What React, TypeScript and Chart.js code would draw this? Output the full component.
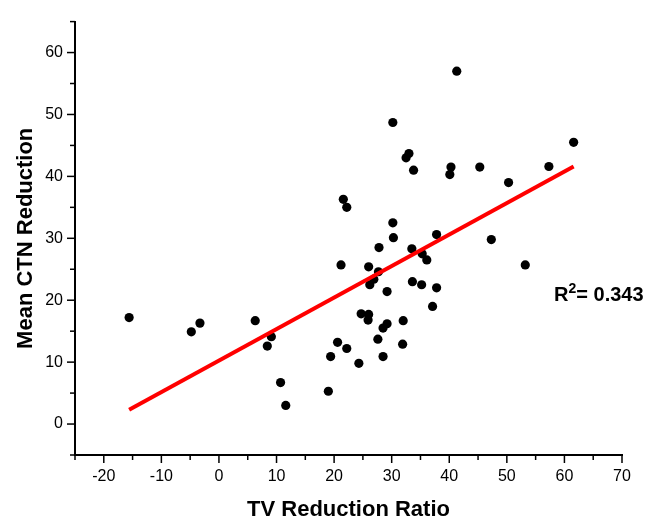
import React, { useEffect, useRef } from "react";
import { Chart, registerables } from "chart.js";

Chart.register(...registerables);

// TV Reduction Ratio (x) and Mean CTN Reduction (y) for each subject
const tvRatio: number[] = [
  -15.6, -4.8, -3.3, 6.3, 9.1, 8.4, 10.7, 11.6,
  21.6, 22.2, 30.2, 30.3, 37.8, 27.8, 33.5, 35.3, 36.1, 21.2, 26.0, 27.7,
  26.9, 26.2, 33.6, 35.2, 37.8, 29.2, 37.1, 24.7, 26.0, 25.9, 32.0, 29.2,
  28.5, 27.6, 20.6, 22.2, 31.9, 19.4, 28.5, 24.3, 19.0,
  41.3, 61.6, 40.3, 40.1, 45.3, 57.3, 50.3, 47.3, 53.2,
  30.2, 33.0, 32.5, 33.8,
];
const ctnReduction: number[] = [
  17.2, 14.9, 16.3, 16.7, 14.1, 12.6, 6.7, 3.0,
  36.3, 35.0, 32.5, 30.1, 30.6, 28.5, 28.3, 27.5, 26.5, 25.7, 25.4, 24.6,
  23.4, 22.5, 23.0, 22.5, 22.0, 21.4, 19.0, 17.8, 17.7, 16.8, 16.7, 16.2,
  15.5, 13.7, 13.2, 12.2, 12.9, 10.9, 10.9, 9.8, 5.3,
  57.0, 45.5, 41.5, 40.3, 41.5, 41.6, 39.0, 29.8, 25.7,
  48.7, 43.7, 43.0, 41.0,
];

// Linear fit end points
const fitX: number[] = [-15.6, 61.6];
const fitY: number[] = [2.3, 41.6];

const xTitle = "TV Reduction Ratio";
const yTitle = "Mean CTN Reduction";
const r2Label = "0.343";
const r2Pos = { x: 58.2, y: 19.9 };

const FONT = "'Liberation Sans', Arial, sans-serif";

export default function App() {
  const ref = useRef<HTMLCanvasElement | null>(null);

  useEffect(() => {
    document.body.style.margin = "0";
    const canvas = ref.current;
    if (!canvas) return;

    const tickPlugin = {
      id: "axisTicksAndLabel",
      afterDraw(chart: any) {
        const ctx = chart.ctx;
        const xs = chart.scales.x;
        const ys = chart.scales.y;
        const area = chart.chartArea;
        ctx.save();
        ctx.strokeStyle = "#000";
        ctx.lineWidth = 1.5;
        xs.ticks.forEach((t: any) => {
          const px = xs.getPixelForValue(t.value);
          const major = Math.round(t.value) % 10 === 0;
          ctx.beginPath();
          ctx.moveTo(px, area.bottom);
          ctx.lineTo(px, area.bottom + (major ? 8 : 5));
          ctx.stroke();
        });
        ys.ticks.forEach((t: any) => {
          const py = ys.getPixelForValue(t.value);
          const major = Math.round(t.value) % 10 === 0;
          ctx.beginPath();
          ctx.moveTo(area.left, py);
          ctx.lineTo(area.left - (major ? 8 : 5), py);
          ctx.stroke();
        });
        // R² annotation
        let x = xs.getPixelForValue(r2Pos.x);
        const y = ys.getPixelForValue(r2Pos.y);
        ctx.fillStyle = "#000";
        ctx.textBaseline = "alphabetic";
        ctx.textAlign = "left";
        ctx.font = `bold 20px ${FONT}`;
        ctx.fillText("R", x, y);
        x += ctx.measureText("R").width;
        ctx.font = `bold 14px ${FONT}`;
        ctx.fillText("2", x, y - 8);
        x += ctx.measureText("2").width;
        ctx.font = `bold 20px ${FONT}`;
        ctx.fillText("= " + r2Label, x, y);
        ctx.restore();
      },
    };

    const chart = new Chart(canvas, {
      data: {
        datasets: [
          {
            type: "line",
            label: "fit",
            data: fitX.map((v, i) => ({ x: v, y: fitY[i] })),
            borderColor: "#ff0000",
            borderWidth: 4,
            pointRadius: 0,
            fill: false,
            order: 0,
          },
          {
            type: "scatter",
            label: "data",
            data: tvRatio.map((v, i) => ({ x: v, y: ctnReduction[i] })),
            backgroundColor: "#000",
            borderColor: "#000",
            pointRadius: 4.6,
            borderWidth: 0,
            order: 1,
          },
        ],
      },
      options: {
        animation: false,
        responsive: true,
        maintainAspectRatio: false,
        layout: { padding: { top: 8, right: 29, left: 0, bottom: 0 } },
        plugins: { legend: { display: false }, tooltip: { enabled: false } },
        scales: {
          x: {
            type: "linear",
            position: "bottom",
            min: -25,
            max: 70,
            afterFit: (s: any) => {
              s.height = 69;
            },
            ticks: {
              stepSize: 5,
              padding: 12,
              color: "#000",
              font: { size: 16, family: FONT },
              callback: (v: any) => (Math.round(v) % 10 === 0 ? String(v) : ""),
              maxRotation: 0,
              autoSkip: false,
            },
            grid: { display: false, drawTicks: false },
            border: { display: true, color: "#000", width: 2 },
            title: {
              display: true,
              text: xTitle,
              color: "#000",
              font: { size: 22, weight: "bold", family: FONT },
              padding: { top: 0, bottom: 1 },
            },
          },
          y: {
            type: "linear",
            min: -5,
            max: 65,
            afterFit: (s: any) => {
              s.width = 75;
            },
            ticks: {
              stepSize: 5,
              padding: 12,
              color: "#000",
              font: { size: 16, family: FONT },
              callback: (v: any) => (Math.round(v) % 10 === 0 ? String(v) : ""),
              autoSkip: false,
            },
            grid: { display: false, drawTicks: false },
            border: { display: true, color: "#000", width: 2 },
            title: {
              display: true,
              text: yTitle,
              color: "#000",
              font: { size: 22, weight: "bold", family: FONT },
              padding: { top: 13, bottom: 0 },
            },
          },
        },
      },
      plugins: [tickPlugin],
    } as any);

    return () => chart.destroy();
  }, []);

  return (
    <div style={{ width: 651, height: 524, position: "relative" }}>
      <canvas ref={ref} />
    </div>
  );
}
